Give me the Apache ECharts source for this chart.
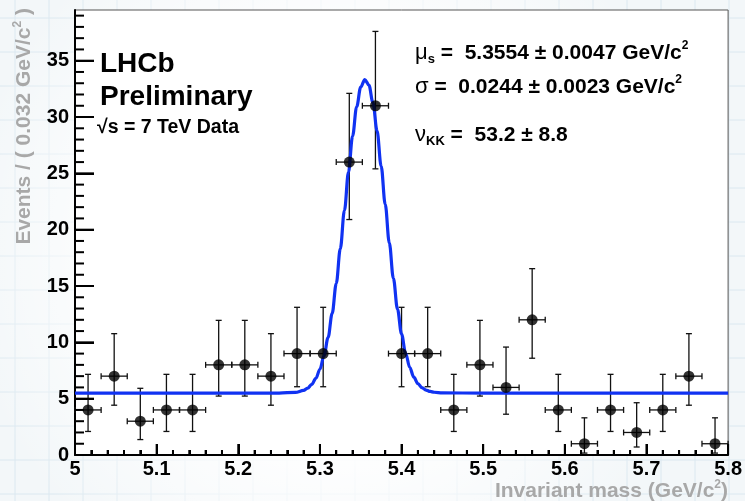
<!DOCTYPE html>
<html>
<head>
<meta charset="utf-8">
<script src="https://cdn.jsdelivr.net/npm/echarts@6/dist/echarts.min.js"></script>
<style>
html,body{margin:0;padding:0;background:#fff;}
#chart{width:745px;height:501px;}
</style>
</head>
<body>
<div id="chart"></div>
<script>
// ---- data ----
const binCenters = [5.016,5.048,5.080,5.112,5.144,5.176,5.208,5.240,5.272,5.304,5.336,5.368,5.400,5.432,5.464,5.496,5.528,5.560,5.592,5.624,5.656,5.688,5.720,5.752,5.784];
const counts     = [4,7,3,4,4,8,8,7,9,9,26,31,9,9,4,8,6,12,4,1,4,2,4,7,1];
const errLow     = [2.09,4.42,1.37,2.09,2.09,5.23,5.23,4.42,6.06,6.06,20.9,25.4,6.06,6.06,2.09,5.23,3.62,8.59,2.09,0.17,2.09,0.71,2.09,4.42,0.17];
const errHigh    = [7.16,10.77,5.92,7.16,7.16,11.95,11.95,10.77,13.11,13.11,32.1,37.6,13.11,13.11,7.16,11.95,9.58,16.54,7.16,3.30,7.16,4.64,7.16,10.77,3.30];
const binHalfWidth = 0.016;
const fitX = [5.0,5.2,5.25,5.27,5.28,5.285,5.29,5.295,5.30,5.305,5.31,5.315,5.32,5.325,5.33,5.335,5.34,5.345,5.35,5.355,5.36,5.365,5.37,5.375,5.38,5.385,5.39,5.395,5.40,5.405,5.41,5.415,5.42,5.425,5.43,5.435,5.44,5.45,5.5,5.8];
const fitY = [5.5,5.5,5.5,5.56,5.73,5.93,6.27,6.80,7.61,8.80,10.43,12.57,15.22,18.31,21.69,25.12,28.30,30.91,32.66,33.33,32.84,31.26,28.77,25.65,22.25,18.83,15.68,12.96,10.74,9.03,7.78,6.91,6.34,5.98,5.76,5.64,5.57,5.51,5.5,5.5];
const xTicks = [5.0,5.1,5.2,5.3,5.4,5.5,5.6,5.7,5.8];
const yTickLabels = [0,5,10,15,20,25,30,35];
const yMax = 39.5;

const FONT = '"Liberation Sans", Arial, Helvetica, sans-serif';

const points = binCenters.map((x,i)=>[x,counts[i]]);
const errData = binCenters.map((x,i)=>[x,counts[i],errLow[i],errHigh[i]]);
const fitData = fitX.map((x,i)=>[x,fitY[i]]);

const xMin = xTicks[0], xMax = xTicks[xTicks.length-1];
// tick marks: [x-value, y-value, axis (0 = x, 1 = y), major flag]
const tickData = [];
for (let k=0; k<=40; k++) { const v = Math.round((xMin + k*0.02)*1000)/1000; tickData.push([v, 1, 0, k%5===0?1:0]); }
for (let k=0; k<=39; k++) tickData.push([5.2, k, 1, k%5===0?1:0]);

// background graph-paper decoration
const bg = [];
bg.push({type:'rect', shape:{x:0,y:0,width:745,height:501}, style:{fill:'#f3f7f9'}, z:-100, silent:true});
for (let x=15; x<745; x+=34) bg.push({type:'line', shape:{x1:x,y1:0,x2:x,y2:501}, style:{stroke:'#dbe8f0',lineWidth:1}, z:-99, silent:true});
for (let y=18; y<501; y+=34) bg.push({type:'line', shape:{x1:0,y1:y,x2:745,y2:y}, style:{stroke:'#dbe8f0',lineWidth:1}, z:-99, silent:true});
bg.push({type:'rect', shape:{x:0,y:0,width:745,height:501}, style:{fill:{type:'radial',x:0.45,y:0.5,r:0.75,colorStops:[{offset:0,color:'rgba(255,255,255,1)'},{offset:0.55,color:'rgba(255,255,255,0.9)'},{offset:1,color:'rgba(255,255,255,0)'}]}}, z:-98, silent:true});

const texts = [
  {type:'text', x:100, y:64, style:{text:'LHCb', font:'bold 28px '+FONT, fill:'#000', verticalAlign:'middle'}, z:10},
  {type:'text', x:100, y:97, style:{text:'Preliminary', font:'bold 28px '+FONT, fill:'#000', verticalAlign:'middle'}, z:10},
  {type:'text', x:97, y:128, style:{text:'√s = 7 TeV Data', font:'bold 19.5px '+FONT, fill:'#000', verticalAlign:'middle'}, z:10},
  {type:'text', x:415, y:53, style:{text:'{g|μ}{sub|s}{m| =  5.3554 ± 0.0047 GeV/c}{sup|2}', verticalAlign:'middle',
     rich:{g:{font:'22px '+FONT, fill:'#000', lineHeight:26}, sub:{font:'bold 13px '+FONT, fill:'#000', verticalAlign:'bottom', lineHeight:26}, m:{font:'bold 21px '+FONT, fill:'#000', lineHeight:26}, sup:{font:'bold 12px '+FONT, fill:'#000', verticalAlign:'top', lineHeight:26}}}, z:10},
  {type:'text', x:415, y:87, style:{text:'{g|σ}{m| =  0.0244 ± 0.0023 GeV/c}{sup|2}', verticalAlign:'middle',
     rich:{g:{font:'22px '+FONT, fill:'#000', lineHeight:26}, m:{font:'bold 21px '+FONT, fill:'#000', lineHeight:26}, sup:{font:'bold 12px '+FONT, fill:'#000', verticalAlign:'top', lineHeight:26}}}, z:10},
  {type:'text', x:415, y:135, style:{text:'{g|ν}{sub|KK}{m| =  53.2 ± 8.8}', verticalAlign:'middle',
     rich:{g:{font:'22px '+FONT, fill:'#000', lineHeight:26}, sub:{font:'bold 13px '+FONT, fill:'#000', verticalAlign:'bottom', lineHeight:26}, m:{font:'bold 21px '+FONT, fill:'#000', lineHeight:26}}}, z:10},
  {type:'text', x:24, y:8, rotation:Math.PI/2, style:{text:'{m|Events / ( 0.032 GeV/c}{sup|2}{m| )}', align:'right', verticalAlign:'middle',
     rich:{m:{font:'bold 21px '+FONT, fill:'#a8a8a8', lineHeight:24}, sup:{font:'bold 12px '+FONT, fill:'#a8a8a8', verticalAlign:'top', lineHeight:24}}}, z:10},
  {type:'text', x:728, y:491, style:{text:'{m|Invariant mass (GeV/c}{sup|2}{m|)}', align:'right', verticalAlign:'middle',
     rich:{m:{font:'bold 21px '+FONT, fill:'#a8a8a8', lineHeight:24}, sup:{font:'bold 12px '+FONT, fill:'#a8a8a8', verticalAlign:'top', lineHeight:24}}}, z:10}
];

const chart = echarts.init(document.getElementById('chart'), null, {renderer:'canvas'});
chart.setOption({
  animation:false,
  backgroundColor:'#ffffff',
  graphic: bg.concat(texts),
  grid:{left:75,right:12,top:10,bottom:46,show:true,backgroundColor:'#ffffff',borderColor:'#555',borderWidth:1,containLabel:false},
  xAxis:{
    type:'value', min:xMin, max:xMax, interval:0.1,
    axisLine:{show:true,onZero:false,lineStyle:{color:'#000',width:2}},
    axisTick:{show:true,inside:true,length:11,lineStyle:{color:'#000',width:2}},
    minorTick:{show:true,splitNumber:5,length:5,lineStyle:{color:'#000',width:2}},
    splitLine:{show:false},
    axisLabel:{margin:4,color:'#000',fontFamily:FONT,fontWeight:'bold',fontSize:20,
      formatter:v=>{const r=Math.round(v*10)/10; return r===5?'5':r.toFixed(1);}}
  },
  yAxis:{
    type:'value', min:0, max:yMax, interval:5,
    axisLine:{show:true,onZero:false,lineStyle:{color:'#000',width:2}},
    axisTick:{show:true,inside:true,length:19,lineStyle:{color:'#000',width:2}},
    splitLine:{show:false},
    axisLabel:{margin:6,color:'#000',fontFamily:FONT,fontWeight:'bold',fontSize:20,showMaxLabel:false,
      formatter:v=>yTickLabels.indexOf(v)>=0?String(v):''}
  },
  series:[
    {type:'custom', data:tickData, z:6, clip:false,
     renderItem:(params,api)=>{
       const isY = api.value(2)===1, major = api.value(3)===1;
       const st={stroke:'#000',lineWidth:2};
       if (isY) {
         const p = api.coord([xMin, api.value(1)]);
         const len = major?19:9;
         return {type:'group',children:[{type:'line',shape:{x1:p[0],y1:p[1],x2:p[0]+len,y2:p[1]},style:st}]};
       }
       const p = api.coord([api.value(0), 0]);
       const len = major?11:5;
       return {type:'group',children:[{type:'line',shape:{x1:p[0],y1:p[1],x2:p[0],y2:p[1]-len},style:st}]};
     }},
    {type:'custom', data:errData, z:3, clip:false,
     renderItem:(params,api)=>{
       const x=api.value(0), y=api.value(1), lo=api.value(2), hi=api.value(3);
       const pL=api.coord([x-binHalfWidth,y]), pR=api.coord([x+binHalfWidth,y]);
       const pLo=api.coord([x,lo]), pHi=api.coord([x,hi]);
       const c=3;
       const st={stroke:'#111',lineWidth:1.3};
       return {type:'group',children:[
         {type:'line',shape:{x1:pLo[0],y1:pLo[1],x2:pHi[0],y2:pHi[1]},style:st},
         {type:'line',shape:{x1:pL[0],y1:pL[1],x2:pR[0],y2:pR[1]},style:st},
         {type:'line',shape:{x1:pHi[0]-c,y1:pHi[1],x2:pHi[0]+c,y2:pHi[1]},style:st},
         {type:'line',shape:{x1:pLo[0]-c,y1:pLo[1],x2:pLo[0]+c,y2:pLo[1]},style:st},
         {type:'line',shape:{x1:pL[0],y1:pL[1]-c,x2:pL[0],y2:pL[1]+c},style:st},
         {type:'line',shape:{x1:pR[0],y1:pR[1]-c,x2:pR[0],y2:pR[1]+c},style:st}
       ]};
     }},
    {type:'line', data:fitData, smooth:0.35, smoothMonotone:'x', showSymbol:false, z:4,
     lineStyle:{color:'#1032f2',width:3.2}},
    {type:'scatter', data:points, symbol:'circle', symbolSize:11, z:5,
     itemStyle:{color:'#000'}}
  ]
});
</script>
</body>
</html>
